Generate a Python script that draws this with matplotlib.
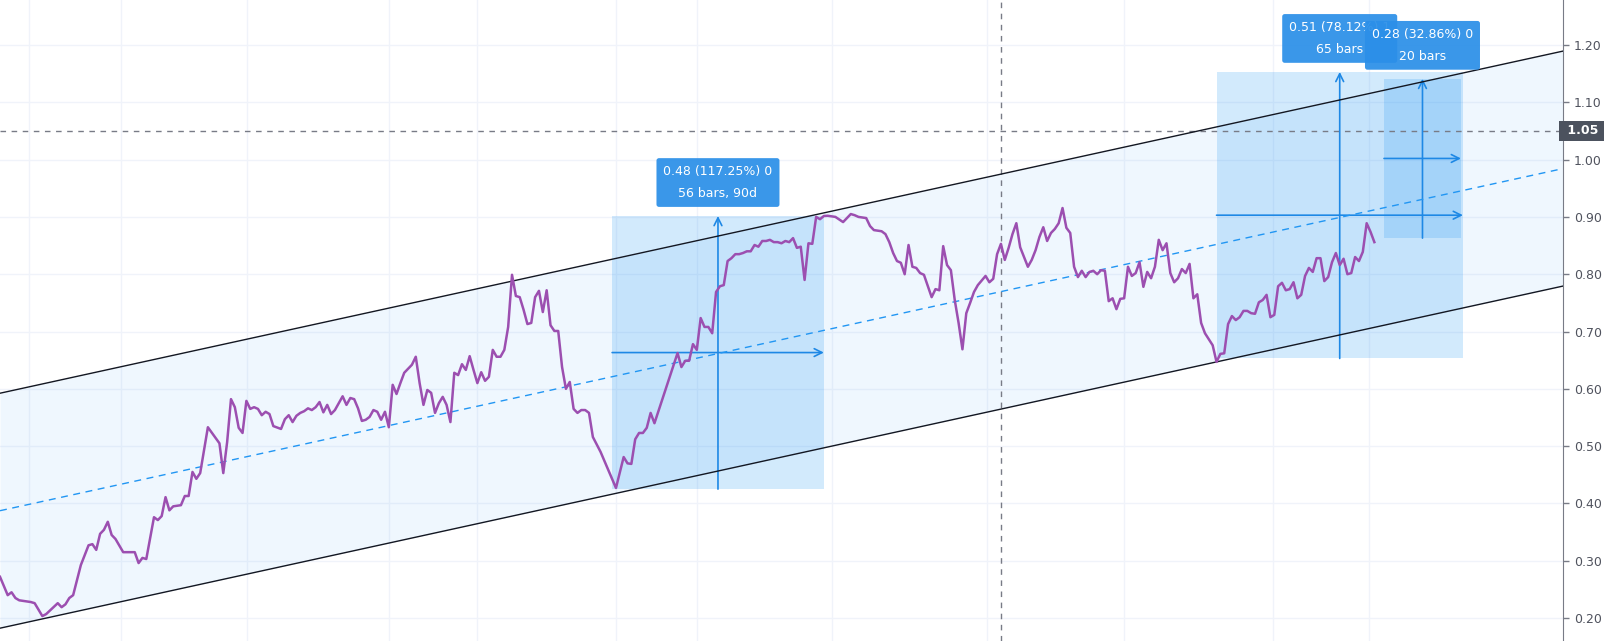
import numpy as np
import matplotlib.pyplot as plt

# close price per bar (bar index from the left edge of the chart)
bar = [0, 2, 3, 4, 5, 6, 8, 9, 11, 12,
       15, 16, 17, 18, 19, 21, 23, 24, 25, 26,
       27, 28, 29, 30, 32, 35, 36, 37, 38, 40,
       41, 42, 43, 44, 45, 47, 48, 49, 50, 51,
       52, 54, 57, 58, 59, 60, 61, 62, 63, 64,
       65, 66, 67, 68, 69, 70, 71, 73, 74, 75,
       76, 77, 78, 79, 80, 81, 82, 83, 84, 85,
       86, 87, 89, 90, 91, 92, 93, 94, 95, 96,
       97, 98, 99, 100, 101, 102, 103, 104, 105, 107,
       108, 109, 110, 111, 112, 113, 114, 115, 116, 117,
       118, 119, 120, 121, 122, 123, 124, 125, 126, 127,
       128, 129, 130, 131, 132, 133, 134, 135, 136, 137,
       138, 139, 140, 141, 142, 143, 144, 145, 146, 147,
       148, 149, 150, 151, 152, 153, 154, 156, 160, 162,
       163, 164, 165, 166, 167, 168, 169, 170, 176, 177,
       178, 179, 180, 181, 182, 183, 184, 185, 186, 187,
       188, 189, 190, 191, 192, 193, 194, 195, 196, 197,
       198, 199, 200, 201, 202, 203, 204, 205, 206, 207,
       208, 209, 210, 211, 212, 213, 214, 215, 217, 219,
       221, 222, 223, 225, 226, 227, 229, 230, 231, 232,
       233, 234, 235, 236, 237, 238, 239, 240, 242, 243,
       244, 245, 246, 247, 248, 249, 250, 251, 252, 253,
       254, 256, 257, 258, 259, 260, 261, 262, 263, 264,
       265, 267, 268, 269, 270, 271, 272, 273, 274, 275,
       276, 277, 278, 279, 280, 281, 282, 283, 284, 285,
       286, 287, 288, 289, 290, 291, 292, 293, 294, 295,
       296, 297, 298, 299, 300, 301, 302, 303, 304, 305,
       306, 307, 308, 309, 310, 311, 312, 313, 315, 316,
       317, 318, 319, 320, 321, 322, 323, 324, 325, 326,
       327, 328, 329, 330, 331, 332, 333, 334, 335, 336,
       337, 338, 339, 340, 341, 342, 343, 344, 345, 346,
       347, 348, 349, 350, 351, 352, 353, 354, 355, 356,
       357]
close = [.272, .240, .245, .235, .231, .230, .228, .226, .2035, .207,
         .226, .219, .224, .235, .240, .2925, .327, .329, .319, .347,
         .354, .368, .345, .338, .315, .315, .296, .305, .303, .376,
         .371, .378, .411, .388, .395, .397, .413, .413, .455, .443,
         .453, .533, .505, .453, .507, .582, .568, .532, .523, .579,
         .565, .568, .565, .554, .560, .556, .535, .530, .547, .554,
         .542, .553, .558, .561, .566, .563, .568, .577, .559, .572,
         .556, .563, .587, .572, .584, .582, .566, .544, .546, .551,
         .563, .560, .546, .560, .533, .607, .591, .610, .628, .642,
         .656, .610, .572, .598, .593, .558, .575, .586, .572, .542,
         .628, .624, .643, .633, .657, .633, .610, .629, .614, .621,
         .668, .656, .656, .668, .708, .799, .762, .760, .738, .713,
         .715, .760, .771, .734, .772, .711, .701, .701, .638, .600,
         .612, .565, .558, .563, .563, .558, .516, .490, .427, .481,
         .470, .469, .512, .523, .523, .532, .558, .540, .6625, .638,
         .649, .649, .678, .668, .7235, .708, .708, .697, .769, .779,
         .781, .823, .828, .835, .835, .837, .840, .840, .851, .848,
         .858, .858, .860, .856, .856, .854, .858, .856, .863, .846,
         .848, .790, .854, .853, .900, .896, .9016, .902, .900, .891,
         .905, .903, .900, .898, .884, .877, .875, .870, .856, .837,
         .823, .820, .800, .851, .813, .811, .802, .799, .760, .774,
         .772, .849, .816, .807, .755, .715, .669, .732, .750, .769,
         .781, .797, .786, .792, .835, .853, .825, .846, .870, .889,
         .847, .813, .825, .842, .865, .882, .858, .872, .879, .889,
         .9155, .881, .872, .813, .795, .806, .795, .804, .806, .800,
         .807, .806, .753, .758, .739, .757, .758, .813, .797, .802,
         .821, .778, .804, .793, .813, .860, .842, .854, .802, .786,
         .793, .809, .802, .818, .758, .765, .715, .697, .676, .647,
         .661, .662, .713, .727, .720, .725, .736, .736, .732, .731,
         .751, .755, .764, .725, .729, .779, .785, .772, .774, .786,
         .758, .764, .797, .811, .804, .828, .828, .788, .795, .821,
         .837, .816, .827, .800, .802, .830, .823, .839, .889, .874,
         .856]

# parallel channel: two anchors on the lower line, plus channel height
chan_bar = [12, 316]
chan_low = [0.200, 0.647]
chan_height = 0.41

# price range measures: (start bar, end bar, low, high)
m_start = [159, 316, 359.5]
m_end = [214, 380, 379.5]
m_low = [0.425, 0.653, 0.863]
m_high = [0.9016, 1.153, 1.141]
m_text = ["0.48 (117.25%) 0\n56 bars, 90d",
          "0.51 (78.12%) 1\n65 bars",
          "0.28 (32.86%) 0\n20 bars"]

hline_price = 1.05
cross_bar = 260
time_grid = [7.5, 31.4, 64.2, 101, 124, 160, 181, 216, 256.4, 292, 330.6, 355.6]
price_ticks = [0.2, 0.3, 0.4, 0.5, 0.6, 0.7, 0.8, 0.9, 1.0, 1.1, 1.2]

blue = '#2196f3'
arrow_blue = '#1e88e5'
grid_c = '#f0f3fa'

fig = plt.figure(figsize=(16.04, 6.41), dpi=100)
ax = fig.add_axes([0, 0, 1563 / 1604, 1])
x_max = 406
ax.set_xlim(0, x_max)
ax.set_ylim(0.16, 1.2785)

for g in time_grid:
    ax.axvline(g, color=grid_c, lw=1, zorder=0)
for t in price_ticks:
    ax.axhline(t, color=grid_c, lw=1, zorder=0)

# channel
slope = (chan_low[1] - chan_low[0]) / (chan_bar[1] - chan_bar[0])
xs = np.array([0, x_max])
low_line = chan_low[0] + slope * (xs - chan_bar[0])
up_line = low_line + chan_height
mid_line = low_line + chan_height / 2
ax.fill_between(xs, low_line, up_line, color=blue, alpha=0.07, lw=0, zorder=1)

# measures
for i in range(3):
    x0, x1, y0, y1 = m_start[i], m_end[i], m_low[i], m_high[i]
    ax.fill_between([x0, x1], y0, y1, color=blue, alpha=0.2, lw=0, zorder=2)
    cx = (x0 + x1) / 2
    cy = (y0 + y1) / 2
    ax.annotate('', xy=(cx, y1), xytext=(cx, y0),
                arrowprops=dict(arrowstyle='->', color=arrow_blue, lw=1.2,
                                mutation_scale=14, shrinkA=0, shrinkB=0), zorder=4)
    ax.annotate('', xy=(x1, cy), xytext=(x0, cy),
                arrowprops=dict(arrowstyle='->', color=arrow_blue, lw=1.2,
                                mutation_scale=14, shrinkA=0, shrinkB=0), zorder=4)
    ax.annotate(m_text[i], xy=(cx, y1), xytext=(0, 11.5), textcoords='offset points',
                ha='center', va='bottom', color='white', fontsize=9, linespacing=1.9,
                bbox=dict(boxstyle='round,pad=0.55,rounding_size=0.2', fc='#2b8fe8',
                          ec='none', alpha=0.93),
                zorder=10 + i, annotation_clip=False)

ax.plot(xs, up_line, color='#131722', lw=1.0, zorder=5)
ax.plot(xs, low_line, color='#131722', lw=1.0, zorder=5)
ax.plot(xs, mid_line, color=blue, lw=1, ls=(0, (5, 4)), zorder=5)

ax.axhline(hline_price, color='#787b86', lw=1, ls=(0, (4, 4)), zorder=3)
ax.axvline(cross_bar, color='#787b86', lw=1, ls=(0, (4, 4)), zorder=3)

ax.plot(bar, close, color='#9c4fb0', lw=1.8, zorder=6)

# right price scale
for s in ['left', 'top', 'bottom']:
    ax.spines[s].set_visible(False)
ax.spines['right'].set_color('#787b86')
ax.yaxis.tick_right()
ax.set_yticks(price_ticks)
ax.set_yticklabels([f'{t:.2f}' for t in price_ticks])
ax.tick_params(axis='y', length=4, width=1, color='#787b86', labelcolor='#50535e',
               labelsize=9, pad=4)
ax.set_xticks([])
ax.text(1.0, hline_price, ' 1.05  ', transform=ax.get_yaxis_transform(), ha='left',
        va='center', color='white', fontsize=9, fontweight='bold',
        bbox=dict(boxstyle='square,pad=0.3', fc='#4c525e', ec='none'), clip_on=False)

fig.savefig('out.png', dpi=100, facecolor='white')
